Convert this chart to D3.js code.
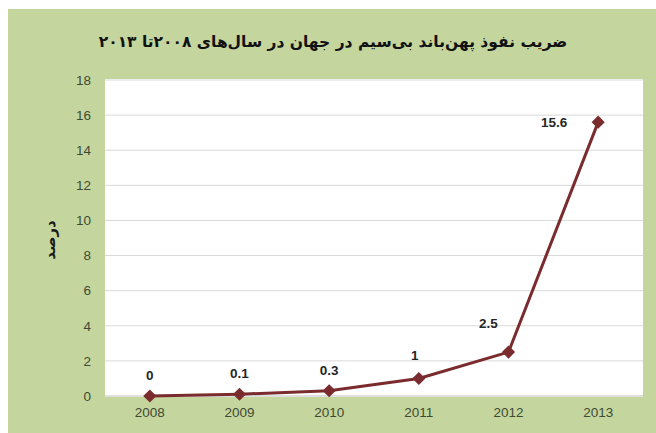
<!DOCTYPE html>
<html>
<head>
<meta charset="utf-8">
<script src="https://cdn.jsdelivr.net/npm/d3@7"></script>
<style>
  body { margin: 0; background: #fff; }
  svg { display: block; }
</style>
</head>
<body>
<svg id="chart" width="656" height="433"></svg>
<script>
// data
var years = ["2008", "2009", "2010", "2011", "2012", "2013"];
var values = [0, 0.1, 0.3, 1, 2.5, 15.6];
var labels = ["0", "0.1", "0.3", "1", "2.5", "15.6"];
var yTicks = [0, 2, 4, 6, 8, 10, 12, 14, 16, 18];
var title = "ضریب نفوذ پهن‌باند بی‌سیم در جهان در سال‌های ۲۰۰۸تا ۲۰۱۳";
var yTitle = "درصد";

var svg = d3.select("#chart"),
    plot = {left: 105, right: 643, top: 80, bottom: 396};

// green outer background
svg.append("rect")
    .attr("x", 8).attr("y", 9)
    .attr("width", 648).attr("height", 424)
    .attr("fill", "#c4d69d");

// white plot area
svg.append("rect")
    .attr("x", plot.left).attr("y", plot.top - 1)
    .attr("width", plot.right - plot.left).attr("height", plot.bottom - plot.top + 2)
    .attr("fill", "#ffffff");

var x = d3.scaleBand()
    .domain(years)
    .range([plot.left, plot.right]);

var y = d3.scaleLinear()
    .domain([0, 18])
    .range([plot.bottom, plot.top]);

// gridlines
svg.append("g")
  .selectAll("line")
  .data(yTicks)
  .enter().append("line")
    .attr("x1", plot.left).attr("x2", plot.right)
    .attr("y1", d => y(d)).attr("y2", d => y(d))
    .attr("stroke", d => d === 0 ? "#bfbfbf" : "#d9d9d9")
    .attr("stroke-width", 1);

// y axis labels
var yAxis = svg.append("g")
    .attr("transform", "translate(" + plot.left + ",0)")
    .call(d3.axisLeft(y).tickValues(yTicks).tickSize(0).tickPadding(14));
yAxis.select(".domain").remove();
yAxis.selectAll("text")
    .attr("font-family", "Liberation Sans, Arial, sans-serif")
    .attr("font-size", 13.5)
    .attr("fill", "#3f4a35");

// x axis labels
var xAxis = svg.append("g")
    .attr("transform", "translate(0," + plot.bottom + ")")
    .call(d3.axisBottom(x).tickSize(0).tickPadding(11));
xAxis.select(".domain").remove();
xAxis.selectAll("text")
    .attr("font-family", "Liberation Sans, Arial, sans-serif")
    .attr("font-size", 13.5)
    .attr("fill", "#3f4a35");

// title
svg.append("text")
    .attr("x", 333).attr("y", 47)
    .attr("text-anchor", "middle")
    .attr("direction", "rtl")
    .attr("font-family", "DejaVu Sans, sans-serif")
    .attr("font-weight", "bold")
    .attr("font-size", 15.5)
    .attr("fill", "#111111")
    .text(title);

// y axis title
svg.append("text")
    .attr("transform", "translate(55,240) rotate(-90)")
    .attr("text-anchor", "middle")
    .attr("direction", "rtl")
    .attr("font-family", "DejaVu Sans, sans-serif")
    .attr("font-weight", "bold")
    .attr("font-size", 15)
    .attr("fill", "#1a1a1a")
    .text(yTitle);

// line
var line = d3.line()
    .x((d, i) => x(years[i]) + x.bandwidth() / 2)
    .y(d => y(d));

svg.append("path")
    .datum(values)
    .attr("d", line)
    .attr("fill", "none")
    .attr("stroke", "#7a2b2e")
    .attr("stroke-width", 3);

// diamond markers
svg.append("g")
  .selectAll("path")
  .data(values)
  .enter().append("path")
    .attr("d", d3.symbol().type(d3.symbolDiamond2).size(110))
    .attr("transform", (d, i) => "translate(" + (x(years[i]) + x.bandwidth() / 2) + "," + y(d) + ")")
    .attr("fill", "#7a2b2e");

// data labels
var labelOffsets = [[0, -16], [0, -16], [0, -16], [-4, -18], [-20, -24], [-44, 5]];
svg.append("g")
  .selectAll("text")
  .data(values)
  .enter().append("text")
    .attr("x", (d, i) => x(years[i]) + x.bandwidth() / 2 + labelOffsets[i][0])
    .attr("y", (d, i) => y(d) + labelOffsets[i][1])
    .attr("text-anchor", "middle")
    .attr("font-family", "Liberation Sans, Arial, sans-serif")
    .attr("font-weight", "bold")
    .attr("font-size", 13.5)
    .attr("fill", "#262626")
    .text((d, i) => labels[i]);
</script>
</body>
</html>
